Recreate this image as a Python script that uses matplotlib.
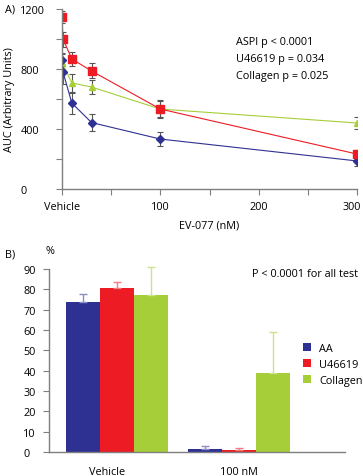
import numpy as np
import matplotlib
matplotlib.use('Agg')
import matplotlib.pyplot as plt
import matplotlib.transforms as mtransforms
from matplotlib.ticker import MultipleLocator

plt.rcParams['font.family'] = ['Open Sans', 'DejaVu Sans']
plt.rcParams['font.size'] = 7.8

# Panel A: AUC vs EV-077 concentration (two vehicle points drawn at 0 and 1 nM)
conc = [0, 1, 10, 30, 100, 300]
aa_auc = [860, 780, 573, 443, 333, 187]
aa_err = [40, 80, 70, 55, 45, 35]
u46_auc = [1150, 1000, 867, 787, 533, 233]
u46_err = [40, 50, 45, 50, 60, 30]
col_conc = [0, 10, 30, 100, 300]
col_auc = [847, 707, 680, 533, 440]
col_err = [60, 60, 45, 55, 40]
p_texts = ['ASPI p < 0.0001', 'U46619 p = 0.034', 'Collagen p = 0.025']

# Panel B: % aggregation
groups = ['Vehicle', '100 nM']
agonists = ['AA', 'U46619', 'Collagen']
pct = [[74, 1.5], [80.5, 0.8], [77, 39]]
pct_err = [[3.5, 1.3], [3, 1.0], [14, 20]]

blue, red, green = '#2E3192', '#ED1C24', '#A6CE39'
err_light = ['#8C8EC4', '#F47C80', '#CDE38A']
grey = '#7f7f7f'

fig = plt.figure(figsize=(3.63, 4.77), dpi=100)

# ---- A ----
ax = fig.add_axes([62/363, 1-190/477, 295/363, 180/477])
ekw = dict(ecolor='#555555', elinewidth=0.8, capsize=2, capthick=0.8)
ax.errorbar(col_conc, col_auc, yerr=col_err, color=green, lw=0.8, marker='^', ms=5, **ekw)
ax.errorbar(conc, aa_auc, yerr=aa_err, color=blue, lw=0.8, marker='D', ms=4, **ekw)
ax.errorbar(conc, u46_auc, yerr=u46_err, color=red, lw=0.8, marker='s', ms=6, **ekw)
ax.set_xlim(0, 300)
ax.set_ylim(0, 1200)
ax.yaxis.set_major_locator(MultipleLocator(400))
ax.yaxis.set_minor_locator(MultipleLocator(200))
ax.xaxis.set_minor_locator(MultipleLocator(50))
ax.set_xticks([0, 100, 200, 300])
ax.set_xticklabels(['Vehicle', '100', '200', '300'])
ax.tick_params(which='both', direction='out', length=4, width=0.8, color=grey)
ax.tick_params(axis='x', pad=5)
ax.tick_params(axis='y', pad=26)
for lab in ax.get_yticklabels():
    lab.set_horizontalalignment('left')
last = ax.get_xticklabels()[-1]
last.set_transform(last.get_transform() + mtransforms.ScaledTranslation(-5/100, 0, fig.dpi_scale_trans))
for s in ['top', 'right']:
    ax.spines[s].set_visible(False)
for s in ['left', 'bottom']:
    ax.spines[s].set_color(grey)
    ax.spines[s].set_linewidth(1.0)
ax.set_xlabel('EV-077 (nM)', labelpad=5)
ax.set_ylabel('AUC (Arbitrary Units)', labelpad=4)
for i, t in enumerate(p_texts):
    ax.text(0.59, 0.82 - i*0.095, t, transform=ax.transAxes, va='center', ha='left')
fig.text(5/363, 1-10/477, 'A)', va='center', ha='left')

# ---- B ----
bx = fig.add_axes([49/363, 1-453/477, 296/363, 183/477])
x = np.arange(len(groups))
w = 0.279
for i, name in enumerate(agonists):
    c = [blue, red, green][i]
    xi = x + (i-1)*w
    bx.bar(xi, pct[i], w, color=c, label=name)
    bx.errorbar(xi, pct[i], yerr=[np.zeros(len(groups)), pct_err[i]], fmt='none',
                ecolor=err_light[i], elinewidth=1.0, capsize=3, capthick=1.0, clip_on=False)
bx.set_xlim(-0.557, 1.869)
bx.set_ylim(0, 90)
bx.yaxis.set_major_locator(MultipleLocator(10))
bx.set_xticks([-0.08, 1.0])
bx.set_xticklabels(groups)
bx.tick_params(axis='x', length=0, pad=10)
bx.tick_params(axis='y', direction='out', length=4, width=0.8, color=grey, pad=14.4)
for lab in bx.get_yticklabels():
    lab.set_horizontalalignment('left')
for s in ['top', 'right']:
    bx.spines[s].set_visible(False)
for s in ['left', 'bottom']:
    bx.spines[s].set_color(grey)
    bx.spines[s].set_linewidth(1.0)
bx.legend(loc='center left', bbox_to_anchor=(0.825, 0.48), frameon=False,
          handlelength=0.7, handleheight=0.7, handletextpad=0.8, labelspacing=0.45)
fig.text(252/363, 1-275/477, 'P < 0.0001 for all test', va='center', ha='left')
fig.text(5/363, 1-255/477, 'B)', va='center', ha='left')
fig.text(46/363, 1-252/477, '%', va='center', ha='left')

fig.savefig('out.png', dpi=100)
